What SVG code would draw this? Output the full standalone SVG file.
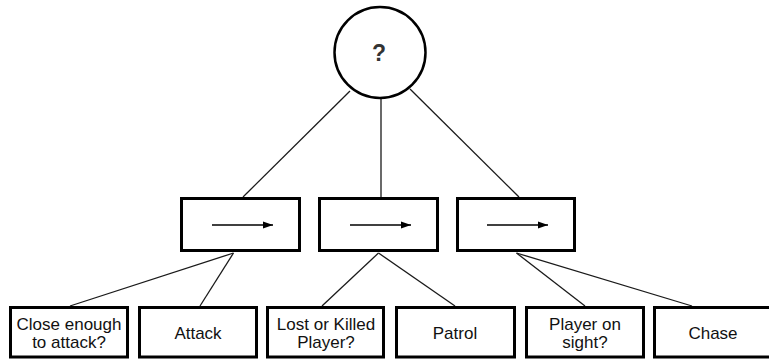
<svg xmlns="http://www.w3.org/2000/svg" width="769" height="360" viewBox="0 0 769 360">
<style>
.box{fill:#fff;stroke:#000;stroke-width:3}
.conn line{stroke:#1a1a1a;stroke-width:1.3;fill:none}
.arr{stroke:#000;stroke-width:1.3}
text{font-family:"Liberation Sans",Arial,sans-serif;font-size:17px;fill:#111;text-anchor:middle}
</style>
<defs>
<marker id="ah" markerWidth="10" markerHeight="8" refX="10" refY="4" orient="auto" markerUnits="userSpaceOnUse">
<path d="M0,0.5 L10,4 L0,7.5 Z" fill="#000"/>
</marker>
</defs>
<rect width="769" height="360" fill="#fff"/>
<g id="connectors" class="conn">
<line x1="350" y1="91" x2="243" y2="197"/>
<line x1="381" y1="98" x2="381" y2="197"/>
<line x1="410" y1="89" x2="519" y2="197"/>
<line x1="233.5" y1="253" x2="70" y2="306"/>
<line x1="233.5" y1="253" x2="200" y2="306"/>
<line x1="378.5" y1="253" x2="322" y2="306"/>
<line x1="378.5" y1="253" x2="455" y2="306"/>
<line x1="516.5" y1="253" x2="585" y2="306"/>
<line x1="516.5" y1="253" x2="692" y2="306"/>
</g>
<g id="selector">
<circle cx="380" cy="52.5" r="45.5" fill="#fff" stroke="#000" stroke-width="2.5"/>
<text x="379" y="61" style="font-size:23px;font-weight:bold;fill:#333">?</text>
</g>
<g id="seq1">
<rect class="box" x="181.5" y="198.5" width="118" height="52"/>
<line class="arr" x1="212" y1="225" x2="273" y2="225" marker-end="url(#ah)"/>
</g>
<g id="seq2">
<rect class="box" x="319.5" y="198.5" width="118" height="52"/>
<line class="arr" x1="350" y1="225" x2="411" y2="225" marker-end="url(#ah)"/>
</g>
<g id="seq3">
<rect class="box" x="457.5" y="198.5" width="117" height="52"/>
<line class="arr" x1="487" y1="225" x2="548" y2="225" marker-end="url(#ah)"/>
</g>
<g id="close">
<rect class="box" x="10.5" y="307.5" width="117" height="49.5"/>
<text x="69" y="330">Close enough</text>
<text x="69" y="348">to attack?</text>
</g>
<g id="attack">
<rect class="box" x="139.5" y="307.5" width="117" height="49.5"/>
<text x="198" y="339">Attack</text>
</g>
<g id="lost">
<rect class="box" x="267.5" y="307.5" width="116" height="49.5"/>
<text x="326" y="330">Lost or Killed</text>
<text x="326" y="348">Player?</text>
</g>
<g id="patrol">
<rect class="box" x="396.5" y="307.5" width="118" height="49.5"/>
<text x="455" y="339">Patrol</text>
</g>
<g id="sight">
<rect class="box" x="526.5" y="307.5" width="117" height="49.5"/>
<text x="585" y="330">Player on</text>
<text x="585" y="348">sight?</text>
</g>
<g id="chase">
<rect class="box" x="654.5" y="307.5" width="120" height="49.5"/>
<text x="713" y="339">Chase</text>
</g>
</svg>
